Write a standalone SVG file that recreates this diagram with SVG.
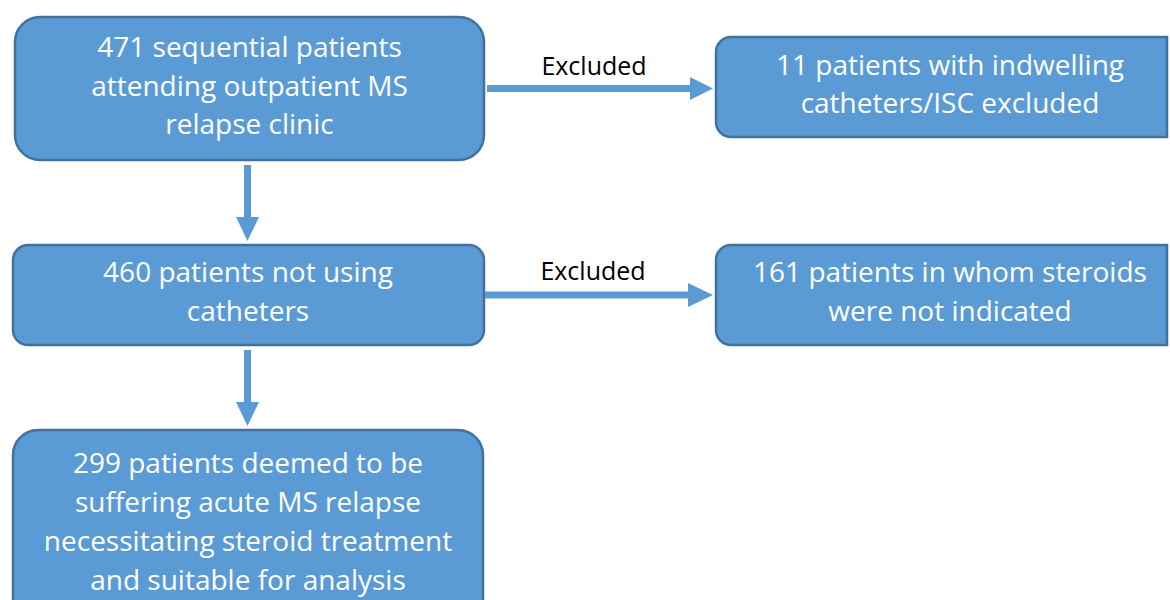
<svg xmlns="http://www.w3.org/2000/svg" width="1170" height="600" viewBox="0 0 1170 600">
<style>
.box{fill:#5B9BD5;stroke:#41719C;stroke-width:2.5}
.t{font-family:"Open Sans","Liberation Sans",sans-serif;font-size:28px;fill:#fff;text-anchor:middle}
.lbl{font-family:"Open Sans","Liberation Sans",sans-serif;font-size:25px;fill:#000;text-anchor:middle}
.ln{stroke:#5B9BD5;stroke-width:7;fill:none}
.hd{fill:#5B9BD5}
</style>
<rect width="1170" height="600" fill="#fff"/>
<g id="n1">
<rect class="box" x="15" y="17" width="469" height="143" rx="25"/>
<text class="t" x="249.5" y="57">471 sequential patients</text>
<text class="t" x="249.5" y="96">attending outpatient MS</text>
<text class="t" x="249.5" y="134">relapse clinic</text>
</g>
<g id="n2">
<path class="box" d="M1167,37 V137 H731 A15,15 0 0 1 716,122 V52 A15,15 0 0 1 731,37 Z"/>
<text class="t" x="950" y="75">11 patients with indwelling</text>
<text class="t" x="950" y="113">catheters/ISC excluded</text>
</g>
<g id="n3">
<rect class="box" x="13" y="245" width="471" height="100" rx="15"/>
<text class="t" x="248" y="282">460 patients not using</text>
<text class="t" x="248" y="321">catheters</text>
</g>
<g id="n4">
<path class="box" d="M1167,245 V345 H731 A15,15 0 0 1 716,330 V260 A15,15 0 0 1 731,245 Z"/>
<text class="t" x="950" y="282">161 patients in whom steroids</text>
<text class="t" x="950" y="321">were not indicated</text>
</g>
<g id="n5">
<rect class="box" x="13" y="430" width="470" height="200" rx="25"/>
<text class="t" x="248" y="473">299 patients deemed to be</text>
<text class="t" x="248" y="512">suffering acute MS relapse</text>
<text class="t" x="248" y="551">necessitating steroid treatment</text>
<text class="t" x="248" y="590">and suitable for analysis</text>
</g>
<g id="connectors">
<line class="ln" x1="487" y1="88.5" x2="692" y2="88.5"/>
<polygon class="hd" points="690,77 713,88.5 690,100"/>
<text class="lbl" x="594" y="75">Excluded</text>
<line class="ln" x1="485" y1="295" x2="690" y2="295"/>
<polygon class="hd" points="688,283 713,295 688,307"/>
<text class="lbl" x="593" y="280">Excluded</text>
<line class="ln" x1="247.5" y1="165" x2="247.5" y2="219"/>
<polygon class="hd" points="236,217 259,217 247.5,241"/>
<line class="ln" x1="247.5" y1="350" x2="247.5" y2="404"/>
<polygon class="hd" points="236,402 259,402 247.5,426"/>
</g>
</svg>
